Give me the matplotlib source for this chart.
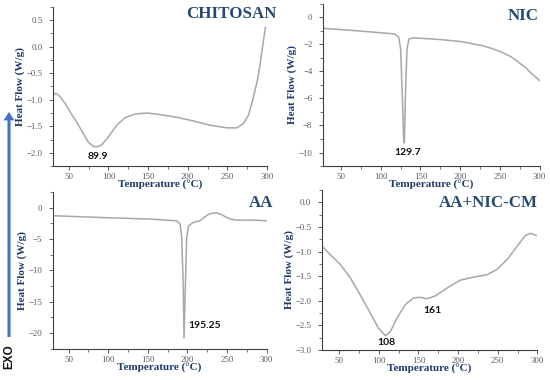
import matplotlib
matplotlib.use("Agg")
import matplotlib.pyplot as plt
from matplotlib.ticker import MultipleLocator, AutoMinorLocator

# ---- data ----
chit_T = [30.4, 33.8, 38.8, 45.2, 51.5, 59.9, 68.3, 74.6, 80.9, 85.2, 91.5, 99.8, 110.4, 120.9, 133.5, 148.3,
          165.1, 186.2, 207.1, 228.2, 249.3, 261.9, 270.3, 276.6, 280.9, 285, 288, 291, 294, 298]
chit_H = [-0.91, -0.88, -0.94, -1.07, -1.23, -1.42, -1.64, -1.80, -1.88, -1.89, -1.85, -1.70, -1.48, -1.34, -1.27, -1.25,
          -1.28, -1.33, -1.40, -1.48, -1.53, -1.53, -1.45, -1.29, -1.07, -0.82, -0.63, -0.37, -0.05, 0.36]

nic_T = [27, 50, 92, 117.4, 122.5, 125, 127.2, 128.8, 129.7, 130.9, 133, 135.5, 142, 176.5, 201.8, 227, 240, 252.4,
         265, 273.4, 283, 290.4, 300]
nic_H = [-0.81, -0.91, -1.1, -1.23, -1.47, -2.34, -6.0, -9.0, -9.3, -6.0, -2.34, -1.6, -1.52, -1.65, -1.8, -2.09, -2.3, -2.58,
         -2.95, -3.32, -3.75, -4.18, -4.67]

aa_T = [31.1, 89.9, 152.9, 186.5, 190.7, 192.8, 194.8, 195.7, 197.4, 199.1, 201.6, 207.4, 215.9, 221, 226.3, 231,
        236.9, 243, 249.5, 255, 262, 283, 300]
aa_H = [-1.3, -1.57, -1.83, -2.1, -2.6, -4.7, -12.6, -20.8, -12.6, -4.7, -2.9, -2.36, -2.1, -1.6, -1.1, -0.9,
        -0.85, -1.1, -1.57, -1.85, -1.99, -1.99, -2.1]

cm_T = [28.1, 38.6, 51.3, 63.9, 76.5, 89.2, 99.7, 108.2, 114.5, 122.9, 133.4, 143.9, 152.4, 160.9, 171.4, 186.2,
        203, 219.8, 236.7, 249.4, 262, 274.7, 285.1, 291.5, 300]
cm_H = [-0.89, -1.06, -1.26, -1.53, -1.88, -2.25, -2.56, -2.71, -2.63, -2.35, -2.08, -1.94, -1.93, -1.96, -1.90, -1.74,
        -1.58, -1.52, -1.47, -1.36, -1.16, -0.89, -0.67, -0.63, -0.68]

titles = ["CHITOSAN", "NIC", "AA", "AA+NIC-CM"]
peak_labels = [["89.9"], ["129.7"], ["195.25"], ["108", "161"]]
peak_pos = [[(86.8, -2.07)], [(134.3, -10.0)], [(222, -18.8)], [(109.4, -2.84), (167.2, -2.2)]]

NAVY = "#1F3A6B"
TITLE_C = "#244A73"
GRAY = "#595959"
LINE_C = "#A8A8A8"
SERIF = "Liberation Serif"

fig = plt.figure(figsize=(5.5, 3.8), dpi=100)

specs = [
    dict(rect=[0.0964, 0.563, 0.389, 0.419], T=chit_T, H=chit_H, xlim=(30, 300), ylim=(-2.25, 0.75), ymaj=0.5, title_xy=(1.045, 0.955)),
    dict(rect=[0.587, 0.563, 0.394, 0.427], T=nic_T, H=nic_H, xlim=(27, 300), ylim=(-11, 1), ymaj=2, title_xy=(0.995, 0.926)),
    dict(rect=[0.0958, 0.082, 0.389, 0.413], T=aa_T, H=aa_H, xlim=(30, 300), ylim=(-22.5, 2.5), ymaj=5, title_xy=(1.03, 0.93)),
    dict(rect=[0.585, 0.079, 0.392, 0.421], T=cm_T, H=cm_H, xlim=(28, 300), ylim=(-3.0, 0.25), ymaj=0.5, title_xy=(1.0, 0.92)),
]

for i, s in enumerate(specs):
    ax = fig.add_axes(s["rect"])
    ax.plot(s["T"], s["H"], color=LINE_C, lw=1.1, solid_joinstyle="round")
    ax.set_xlim(*s["xlim"])
    ax.set_ylim(*s["ylim"])
    for sp in ["top", "right"]:
        ax.spines[sp].set_visible(False)
    for sp in ["left", "bottom"]:
        ax.spines[sp].set_color("#404040")
        ax.spines[sp].set_linewidth(0.8)
    ax.xaxis.set_major_locator(MultipleLocator(50))
    ax.xaxis.set_minor_locator(AutoMinorLocator(2))
    ax.yaxis.set_major_locator(MultipleLocator(s["ymaj"]))
    ax.yaxis.set_minor_locator(AutoMinorLocator(2))
    ax.tick_params(which="major", length=3, width=0.6, color="#404040", labelsize=6.3, labelcolor=GRAY)
    ax.tick_params(axis="x", which="major", pad=2)
    ax.tick_params(axis="y", which="major", pad=4.5)
    ax.tick_params(which="minor", length=2, width=0.5, color="#404040")
    for lab in ax.get_xticklabels() + ax.get_yticklabels():
        lab.set_family(SERIF)
    ax.set_xlabel("Temperature (°C)", fontsize=8, fontweight="bold", family=SERIF, color=NAVY, labelpad=-0.5)
    ax.set_ylabel("Heat Flow (W/g)", fontsize=8, fontweight="bold", family=SERIF, color=NAVY, labelpad=1)
    ax.text(s["title_xy"][0], s["title_xy"][1], titles[i], transform=ax.transAxes, ha="right", va="center",
            fontsize=12.2, fontweight="bold", family=SERIF, color=TITLE_C, clip_on=False)
    for lab, (px, py) in zip(peak_labels[i], peak_pos[i]):
        ax.text(px, py, lab, ha="center", va="center", fontsize=7.5, fontweight="bold", family="Lato", color="#111111")

# EXO arrow
fig.patches.append(matplotlib.patches.FancyArrow(
    9 / 550, 1 - 337 / 380, 0, (337 - 112) / 380 - 0.022, width=0.0055, head_width=0.02, head_length=0.022,
    length_includes_head=False, transform=fig.transFigure, color="#4472C4", lw=0))
fig.text(9 / 550, 1 - 357 / 380, "EXO", rotation=90, ha="center", va="center", fontsize=8.5, fontweight="bold",
         family="Liberation Sans", color="#111111")

fig.savefig("out.png", dpi=100)
